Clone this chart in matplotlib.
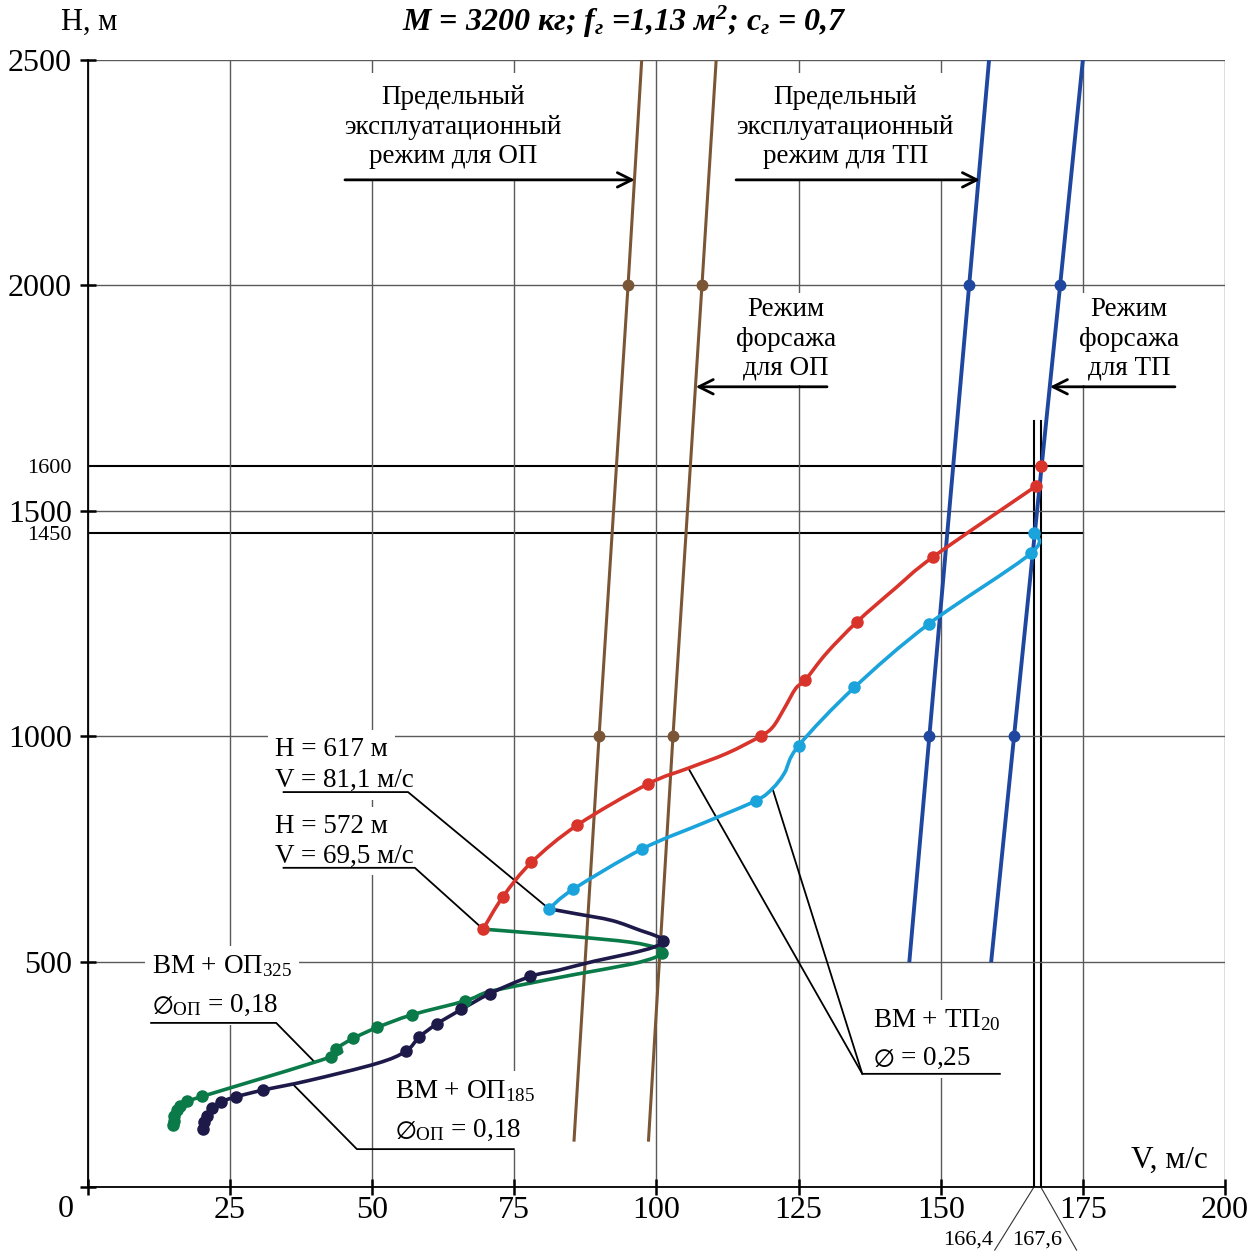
import numpy as np
import matplotlib.pyplot as plt
from matplotlib.path import Path
from matplotlib.patches import PathPatch

plt.rcParams['font.family'] = ['Liberation Serif', 'DejaVu Sans']
plt.rcParams['mathtext.fontset'] = 'custom'
plt.rcParams['mathtext.rm'] = 'Liberation Serif'
plt.rcParams['mathtext.it'] = 'Liberation Serif:italic:bold'
plt.rcParams['mathtext.bf'] = 'Liberation Serif:italic:bold'
plt.rcParams['mathtext.fallback'] = 'stix'

# ВМ + ТП20, upper curve (V, м/с ; H, м)
red_v = [69.5, 73.0, 78.0, 86.1, 98.5, 105.6, 112.4, 118.3, 120.5, 122.5, 124.5, 126.2,
         129.9, 135.3, 142.0, 148.7, 166.8]
red_h = [572, 644, 720, 803, 894, 929, 962, 1000, 1021, 1062, 1106, 1125,
         1184, 1254, 1328, 1398, 1555]
red_mv = [69.5, 73.0, 78.0, 86.1, 98.5, 118.3, 126.2, 135.3, 148.7, 166.8, 167.6]
red_mh = [572, 644, 720, 803, 894, 1000, 1125, 1254, 1398, 1555, 1600]

# ВМ + ТП20, lower curve
cyan_v = [81.1, 85.3, 97.5, 108.4, 117.5, 120.4, 122.5, 125.0, 134.8, 147.9, 165.9, 166.4]
cyan_h = [617, 660, 750, 808, 857, 884, 918, 979, 1108, 1249, 1406, 1450]
cyan_mv = [81.1, 85.3, 97.5, 117.5, 125.0, 134.8, 147.9, 165.9, 166.4]
cyan_mh = [617, 660, 750, 857, 979, 1108, 1249, 1406, 1450]

# ВМ + ОП325
green_v = [69.5, 76.5, 85.9, 95.4, 100.3, 101.0, 99.7, 95.4, 85.9, 76.5, 70.2, 66.4, 57.0,
           50.9, 46.7, 43.7, 42.8, 20.1, 17.5, 16.2, 15.6, 15.2, 15.1, 15.0]
green_h = [572, 565, 555, 543, 530, 520, 509, 494, 472, 449, 432, 413, 382,
           354, 330, 307, 289, 201, 190, 180, 170, 158, 147, 137]
green_mv = [101.0, 66.4, 57.0, 50.9, 46.7, 43.7, 42.8, 20.1, 17.5, 16.2, 15.6, 15.2, 15.1, 15.0]
green_mh = [520, 413, 382, 354, 330, 307, 289, 201, 190, 180, 170, 158, 147, 137]

# ВМ + ОП185
navy_v = [81.1, 85.9, 92.2, 97.2, 100.3, 101.1, 99.5, 95.4, 89.1, 82.8, 77.8, 70.7, 65.7,
          61.4, 58.3, 55.9, 50.8, 38.8, 30.8, 26.0, 23.4, 21.9, 20.9, 20.4, 20.2]
navy_h = [617, 606, 591, 569, 555, 545, 532, 518, 501, 481, 467, 429, 394,
          362, 333, 301, 274, 236, 215, 200, 189, 176, 158, 144, 128]
navy_mv = [101.1, 77.8, 70.7, 65.7, 61.4, 58.3, 55.9, 30.8, 26.0, 23.4, 21.9, 20.9, 20.4, 20.2]
navy_mh = [545, 467, 429, 394, 362, 333, 301, 215, 200, 189, 176, 158, 144, 128]

# limit lines: ОП (brown) and ТП (blue)
op_lim_v = [85.5, 89.9, 95.0, 97.4]
op_lim_h = [104, 1000, 2000, 2500]
op_ab_v = [98.6, 102.9, 108.0, 110.5]
op_ab_h = [104, 1000, 2000, 2500]
tp_lim_v = [144.5, 148.0, 155.0, 158.5]
tp_lim_h = [503, 1000, 2000, 2500]
tp_ab_v = [158.9, 162.9, 171.0, 175.0]
tp_ab_h = [503, 1000, 2000, 2500]

x_ticks = [0, 25, 50, 75, 100, 125, 150, 175, 200]
y_ticks = [0, 500, 1000, 1500, 2000, 2500]

RED = '#d9342b'
CYAN = '#1ba3dc'
GREEN = '#0a7a48'
NAVY = '#1d1a4a'
BROWN = '#7b5636'
BLUE = '#1f47a0'


def smooth_path(v, h):
    # Catmull-Rom through the read points, as cubic Bezier segments
    p = np.column_stack([v, h]).astype(float)
    verts = [p[0]]
    codes = [Path.MOVETO]
    n = len(p)
    for i in range(n - 1):
        p0 = p[i - 1] if i > 0 else p[i]
        p3 = p[i + 2] if i + 2 < n else p[i + 1]
        verts += [p[i] + (p[i + 1] - p0) / 6, p[i + 1] - (p3 - p[i]) / 6, p[i + 1]]
        codes += [Path.CURVE4] * 3
    return Path(verts, codes)


fig = plt.figure(figsize=(12.58, 12.52), dpi=100)
ax = fig.add_axes([0.06995, 0.05192, 0.9038, 0.9002])
ax.set_xlim(0, 200)
ax.set_ylim(0, 2500)

ax.set_xticks(x_ticks, [''] + [str(t) for t in x_ticks[1:]])
ax.set_yticks(y_ticks, [''] + [str(t) for t in y_ticks[1:]])
ax.set_yticks([1450, 1600], ['1450', '1600'], minor=True)
ax.tick_params(which='major', direction='inout', length=11, width=1.8, labelsize=23)
ax.tick_params(axis='y', which='major', pad=6)
ax.tick_params(axis='x', which='major', pad=1)
ax.tick_params(axis='y', which='minor', length=0, labelsize=16, pad=11.5)
ax.grid(True, which='major', color='#5a5a5a', lw=1.0, zorder=0)
for s in ['top', 'right']:
    ax.spines[s].set_visible(False)
for s in ['left', 'bottom']:
    ax.spines[s].set_linewidth(1.3)

# reference lines for the limit points
for h in [1450, 1600]:
    ax.plot([0, 175], [h, h], color='black', lw=1.5, zorder=1)
for v in [166.4, 167.6]:
    ax.plot([v, v], [0, 1700], color='black', lw=1.5, zorder=1)
ax.plot([166.4, 159.5], [0, -140], color='#333333', lw=0.8, clip_on=False)
ax.plot([167.6, 173.9], [0, -140], color='#333333', lw=0.8, clip_on=False)
ax.text(159.3, -118, '166,4', fontsize=16, ha='right', va='center', clip_on=False)
ax.text(162.6, -118, '167,6', fontsize=16, ha='left', va='center', clip_on=False)
ax.text(-4.0, -51, '0', fontsize=23, ha='center', va='center', clip_on=False)

# limit lines
for lv, lh, col, lw in [(op_lim_v, op_lim_h, BROWN, 2.2), (op_ab_v, op_ab_h, BROWN, 2.2),
                        (tp_lim_v, tp_lim_h, BLUE, 2.8), (tp_ab_v, tp_ab_h, BLUE, 2.8)]:
    ax.plot(lv, lh, color=col, lw=lw, zorder=3)
    ax.plot(lv[1:3], lh[1:3], 'o', color=col, ms=7.5, zorder=4)

# curves
for cv, ch, mv, mh, col in [(green_v, green_h, green_mv, green_mh, GREEN),
                            (navy_v, navy_h, navy_mv, navy_mh, NAVY),
                            (red_v, red_h, red_mv, red_mh, RED),
                            (cyan_v, cyan_h, cyan_mv, cyan_mh, CYAN)]:
    ax.add_patch(PathPatch(smooth_path(cv, ch), fill=False, edgecolor=col, lw=2.6,
                           capstyle='round', joinstyle='round', zorder=5))
    ax.plot(mv, mh, 'o', color=col, ms=8, zorder=6)

fs = 19.5
wb = dict(facecolor='white', edgecolor='none', pad=5)

# regime labels with arrows
for x, y, s, pad in [(64.2, 2351, 'Предельный\nэксплуатационный\nрежим для ОП', 9),
                     (133.2, 2351, 'Предельный\nэксплуатационный\nрежим для ТП', 9),
                     (122.8, 1881, 'Режим\nфорсажа\nдля ОП', 3),
                     (183.1, 1881, 'Режим\nфорсажа\nдля ТП', 3)]:
    ax.text(x, y, s, fontsize=fs, ha='center', va='center', linespacing=1.23,
            bbox=dict(facecolor='white', edgecolor='none', pad=pad), zorder=2)
arrow = dict(arrowstyle='->', color='black', lw=2, mutation_scale=26, shrinkA=0, shrinkB=0)
ax.annotate('', xy=(96.2, 2234), xytext=(45.2, 2234), arrowprops=arrow, zorder=7)
ax.annotate('', xy=(156.9, 2234), xytext=(114.0, 2234), arrowprops=arrow, zorder=7)
ax.annotate('', xy=(106.9, 1775), xytext=(130.0, 1775), arrowprops=arrow, zorder=7)
ax.annotate('', xy=(169.2, 1775), xytext=(191.2, 1775), arrowprops=arrow, zorder=7)

# point labels
ax.text(32.9, 976, 'H = 617 м', fontsize=fs, ha='left', va='center_baseline', bbox=wb, zorder=2)
ax.text(32.9, 909, 'V = 81,1 м/с', fontsize=fs, ha='left', va='center_baseline', bbox=wb, zorder=2)
ax.text(32.9, 807, 'H = 572 м', fontsize=fs, ha='left', va='center_baseline', bbox=wb, zorder=2)
ax.text(32.9, 741, 'V = 69,5 м/с', fontsize=fs, ha='left', va='center_baseline', bbox=wb, zorder=2)
ax.plot([34.4, 56.3, 81.1], [876, 876, 617], color='black', lw=1.3, zorder=4)
ax.plot([34.4, 57.5, 69.5], [708, 708, 572], color='black', lw=1.3, zorder=4)

# curve labels
ax.text(11.3, 497, 'ВМ + ОП$_{325}$', fontsize=fs, ha='left', va='center_baseline', bbox=wb, zorder=2)
ax.text(11.3, 410, '$\\emptyset_{\\mathrm{ОП}}$ = 0,18', fontsize=fs, ha='left', va='center_baseline', bbox=wb, zorder=2)
ax.plot([11.1, 33.1, 39.8], [364, 364, 278], color='black', lw=1.3, zorder=4)

ax.text(54.0, 220, 'ВМ + ОП$_{185}$', fontsize=fs, ha='left', va='center_baseline', bbox=wb, zorder=2)
ax.text(54.0, 133, '$\\emptyset_{\\mathrm{ОП}}$ = 0,18', fontsize=fs, ha='left', va='center_baseline', bbox=wb, zorder=2)
ax.plot([74.9, 47.3, 36.2], [84, 84, 226], color='black', lw=1.3, zorder=4)

ax.text(138.1, 377, 'ВМ + ТП$_{20}$', fontsize=fs, ha='left', va='center_baseline', bbox=wb, zorder=2)
ax.text(138.1, 293, '$\\emptyset$ = 0,25', fontsize=fs, ha='left', va='center_baseline', bbox=wb, zorder=2)
ax.plot([160.4, 136.2, 105.6], [251, 251, 929], color='black', lw=1.3, zorder=4)
ax.plot([136.2, 120.4], [251, 884], color='black', lw=1.3, zorder=4)

# axis names and title
ax.text(0.2, 2584, 'H, м', fontsize=22, ha='center', va='center', clip_on=False)
ax.text(190.3, 60, 'V, м/с', fontsize=22.5, ha='center', va='center', bbox=wb)
fig.text(625 / 1258, 1 - 22 / 1252, 'M = 3200 кг; $f_г$ =1,13 м$^{\\mathbf{2}}$; $c_г$ = 0,7',
         fontsize=23, fontweight='bold', fontstyle='italic', ha='center', va='center')

fig.savefig('out.png', dpi=100)
